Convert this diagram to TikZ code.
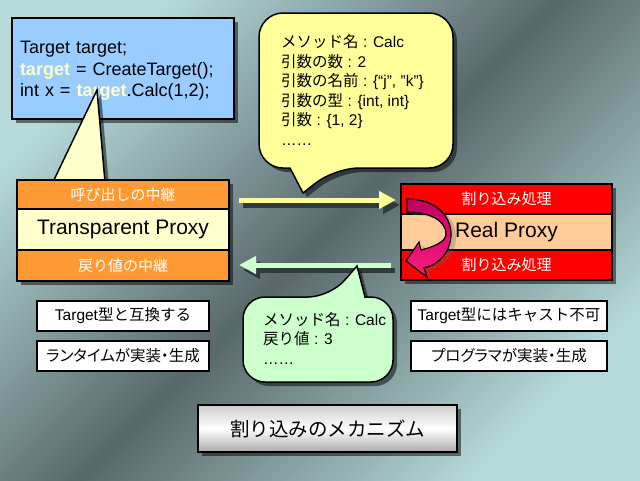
\documentclass[tikz,border=0pt]{standalone}
\usepackage{fontspec}
\setmainfont{Liberation Sans}
\newfontfamily\jp{Noto Sans CJK JP}
\newfontfamily\jpp[RawFeature=+palt]{Noto Sans CJK JP}
\usetikzlibrary{shadows,arrows.meta}
\definecolor{bglight}{RGB}{182,218,218}
\definecolor{bgdark}{RGB}{88,104,106}
\definecolor{codeblue}{HTML}{99CCFF}
\definecolor{codeyel}{HTML}{FFFFCC}
\definecolor{orangeband}{HTML}{FF9933}
\definecolor{paleyel}{HTML}{FFFFCC}
\definecolor{redband}{HTML}{FF0000}
\definecolor{peach}{HTML}{FFCC99}
\definecolor{bubyel}{HTML}{FFFF99}
\definecolor{bubgreen}{HTML}{CCFFCC}
\definecolor{arrowyel}{HTML}{FFFF99}
\definecolor{arrowgreen}{HTML}{CCFFCC}
\definecolor{magA}{HTML}{C00060}
\definecolor{magB}{HTML}{FF1A80}
\definecolor{shadowc}{RGB}{48,58,60}
\definecolor{titletop}{RGB}{205,205,205}
\definecolor{titlebot}{RGB}{170,170,170}
\begin{document}
\begin{tikzpicture}[x=1pt,y=-1pt,
  outl/.style={draw=black,line width=1.5pt},
  shad/.style={drop shadow={shadow xshift=4pt,shadow yshift=-4pt,opacity=0.5,fill=black}},
  shadsoft/.style={drop shadow={shadow xshift=5pt,shadow yshift=-3pt,opacity=0.3,fill=black!60}},
  band/.style={outl,shad,minimum height=#1,inner sep=0pt},
  jpband/.style={text=white,font=\jp\fontsize{15}{18}\selectfont},
  bigtxt/.style={font=\fontsize{21}{24}\selectfont},
  bubtxt/.style={align=left,inner sep=0pt,font=\fontsize{15.5}{19.5}\selectfont},
  wbox/.style={outl,fill=white,minimum height=30pt,inner sep=0pt,font=\fontsize{15.5}{18}\selectfont},
  yelarrow/.style={line width=5pt,draw=arrowyel,-{Triangle[width=17pt,length=17pt]}},
  greenarrow/.style={line width=5pt,draw=arrowgreen,-{Triangle[width=17pt,length=17pt]}},
  arrowshadow/.style={line width=5pt,draw=shadowc,-{Triangle[width=17pt,length=17pt]},transform canvas={shift={(4pt,-5pt)}}}
]
\useasboundingbox (0,0) rectangle (640,480);
% background
\shade[top color=bglight,bottom color=bglight,middle color=bgdark,shading angle=45] (0,0) rectangle (640,480);

% code box
\node[outl,shad,fill=codeblue,minimum width=222pt,minimum height=101pt,inner sep=0pt] (code) at (123,68.5) {};
\node[text width=206pt,align=left,inner sep=0pt,font=\fontsize{18}{21.5}\selectfont] (codetxt) at (123,71)
  {Target target;\\ \textcolor{codeyel}{\textbf{target}} = CreateTarget();\\ int x = \textcolor{codeyel}{\textbf{target}}.Calc(1,2);};

% callout triangle from the transparent proxy to the code
\coordinate (tritip) at (97,90);
\coordinate (tribl) at (53,182);
\coordinate (tribr) at (105,182);
\draw[outl,shad,fill=codeyel] (tritip) -- (tribl) -- (tribr) -- cycle;

% Transparent proxy
\node[band=29pt,fill=orangeband,minimum width=212pt,jpband] (tp1) at (123,194.5) {呼び出しの中継};
\node[band=41pt,fill=paleyel,minimum width=212pt,bigtxt] (tp2) at (123,229.5) {Transparent Proxy};
\node[band=31pt,fill=orangeband,minimum width=212pt,jpband] (tp3) at (123,265.5) {戻り値の中継};

% yellow bubble
\draw[outl,shad,fill=bubyel] (259,90) [rounded corners=24] |- (356,13) -| (453,90) |- (335,168)
   [sharp corners] -- (303,193) -- (290,168) [rounded corners=24] -| (259,90) -- cycle;
\node[bubtxt,anchor=west] (ytext) at (281,90)
  {{\jp メソッド名} : Calc\\ {\jp 引数の数} : 2\\ {\jp 引数の名前} : \{“j”, ”k”\}\\ {\jp 引数の型} : \{int, int\}\\ {\jp 引数} : \{1, 2\}\\ ……};

% arrows
\coordinate (a1s) at (239,200);
\coordinate (a1e) at (396,200);
\coordinate (a2s) at (391,265);
\coordinate (a2e) at (239,265);
\draw[arrowshadow] (a1s) -- (a1e);
\draw[yelarrow] (a1s) -- (a1e);
\draw[arrowshadow] (a2s) -- (a2e);
\draw[greenarrow] (a2s) -- (a2e);

% Real proxy
\node[band=30pt,fill=redband,minimum width=211pt,jpband] (rp1) at (506.5,199) {割り込み処理};
\node[band=36pt,fill=peach,minimum width=211pt,bigtxt] (rp2) at (506.5,232) {Real Proxy};
\node[band=30pt,fill=redband,minimum width=211pt,jpband] (rp3) at (506.5,265) {割り込み処理};

% curved U-turn arrow
\shade[shadsoft,top color=magA,bottom color=magB,draw=black,line width=1.2pt]
  (407,199) .. controls (438,199) and (452,218) .. (451,236)
  .. controls (450,252) and (440,264) .. (424,268)
  -- (427,277) -- (406,261) -- (419,242) -- (421,250)
  .. controls (433,247) and (446,242) .. (446,234)
  .. controls (446,222) and (432,212) .. (407,212) -- cycle;

% green bubble
\draw[outl,shad,fill=bubgreen] (243,340) [rounded corners=22] |- (330,297)
   [sharp corners] -- (357,266) -- (365,297) [rounded corners=22] -| (393,340) |- (318,382) -| (243,340) -- cycle;
\node[bubtxt,anchor=west] (gtext) at (263,338)
  {{\jp メソッド名} : Calc\\ {\jp 戻り値} : 3\\ ……};

% white boxes
\node[wbox,minimum width=172pt] (w1) at (123,316) {Target{\jp 型と互換する}};
\node[wbox,minimum width=172pt] (w2) at (123,356) {\jpp ランタイムが実装・生成};
\node[wbox,minimum width=196pt] (w3) at (509,316) {Target{\jp 型にはキャスト不可}};
\node[wbox,minimum width=196pt] (w4) at (509,356) {\jpp プログラマが実装・生成};

% title
\node[outl,shad,top color=titletop,bottom color=titlebot,middle color=white,minimum width=259pt,minimum height=47pt,
      inner sep=0pt,font=\jp\fontsize{19.5}{22}\selectfont] (title) at (327.5,428.5) {割り込みのメカニズム};
\end{tikzpicture}
\end{document}
